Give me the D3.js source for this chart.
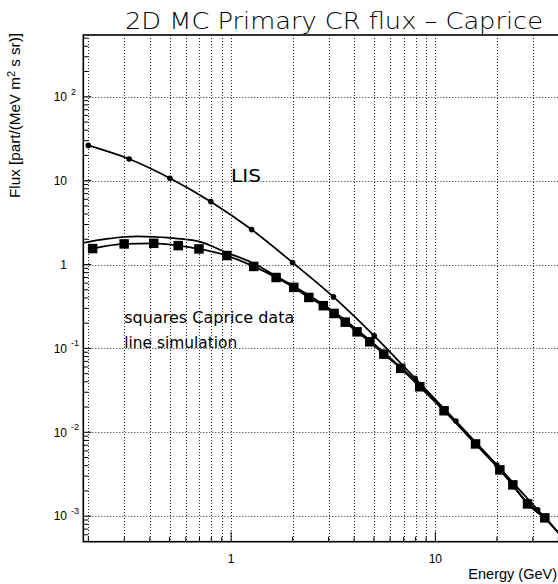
<!DOCTYPE html>
<html><head><meta charset="utf-8">
<script src="https://cdn.jsdelivr.net/npm/d3@7"></script>
<style>body{margin:0;background:#fff}svg{display:block}</style>
</head><body>
<svg id="c" width="558" height="584"></svg>
<script>
// ---- data ----
const lisE = [0.2, 0.317, 0.502, 0.796, 1.26, 2.0, 3.17, 5.02, 7.96, 12.6, 20.0, 31.7];
const lisF = [26.3, 18.1, 10.7, 5.62, 2.61, 1.056, 0.411, 0.141, 0.0439, 0.0136, 0.00408, 0.00119];
const lisTailE = [40.3];
const lisTailF = [0.00062];

const capriceE = [0.210, 0.2995, 0.418, 0.551, 0.696, 0.953, 1.291, 1.661, 2.027, 2.403, 2.827, 3.192,
                  3.622, 4.138, 4.774, 5.589, 6.77, 8.39, 11.03, 15.73, 20.69, 23.95, 28.27, 34.36];
const capriceF = [1.55, 1.76, 1.79, 1.68, 1.535, 1.28, 0.949, 0.700, 0.534, 0.405, 0.323, 0.261,
                  0.2056, 0.1576, 0.1199, 0.0855, 0.0578, 0.0349, 0.01807, 0.00726, 0.00356, 0.00236, 0.00140, 0.000954];

const simE = [0.189, 0.25, 0.3, 0.35, 0.42, 0.55, 0.7, 0.95, 1.3, 1.66, 2.03, 3.2, 5.6, 8.4, 11.0, 15.73, 20.69, 28.27, 34.36, 40.3];
const simF = [1.81, 2.03, 2.14, 2.17, 2.14, 2.04, 1.87, 1.39, 1.02, 0.726, 0.552, 0.271, 0.0892, 0.0366, 0.0187, 0.00736, 0.00361, 0.00144, 0.000968, 0.00062];

const xMajor = [1, 10];
const xMajorLabels = ["1", "10"];
const xMinor = [0.2,0.3,0.4,0.5,0.6,0.7,0.8,0.9,2,3,4,5,6,7,8,9,20,30,40];
const yDecades = [1e-3, 1e-2, 1e-1, 1, 10, 100];
const yLabelBase = ["10", "10", "10", "1", "10", "10"];
const yLabelExp = ["-3", "-2", "-1", "", "", "2"];

const titleText = "2D MC Primary CR flux \u2013 Caprice";
const xTitle = "Energy (GeV)";
const yTitle = ["Flux [part/(MeV m", "2", " s sr)]"];
const noteTexts = ["LIS", "squares Caprice data", "line simulation"];
const noteE = [1.0, 0.3, 0.3];
const noteF = [9.7, 0.2, 0.1];

// ---- layout / style ----
const noteStyle = [{size:17, len:30}, {size:15, len:170}, {size:15, len:113}];
const L = 83.3, R = 559, T = 35, B = 541.7;
const svg = d3.select("#c");
const x = d3.scaleLog().domain([0.189, 40.3]).range([L, R]);
const y = d3.scaleLog().domain([4.96e-4, 545]).range([B, T]);
const tickFont = "'Liberation Sans', Arial, sans-serif";
const roundFont = "'DejaVu Sans', sans-serif";

// grid
const grid = svg.append("g").attr("stroke", "#000").attr("stroke-width", 1).attr("stroke-dasharray", "1,2").attr("opacity", 0.85);
grid.selectAll(".gx").data(xMinor.concat(xMajor)).join("line")
  .attr("x1", d => Math.round(x(d)) + 0.5).attr("x2", d => Math.round(x(d)) + 0.5)
  .attr("y1", T).attr("y2", B);
grid.selectAll(".gy").data(yDecades).join("line")
  .attr("y1", d => Math.round(y(d)) + 0.5).attr("y2", d => Math.round(y(d)) + 0.5)
  .attr("x1", L).attr("x2", R);

// lines
const line = d3.line().x(d => x(d[0])).y(d => y(d[1])).curve(d3.curveMonotoneX);
const lisPts = lisE.map((e,i)=>[e, lisF[i]]).concat(lisTailE.map((e,i)=>[e, lisTailF[i]]));
const simPts = simE.map((e,i)=>[e, simF[i]]);
const capPts = capriceE.map((e,i)=>[e, capriceF[i]]);
const lg = svg.append("g").attr("fill", "none").attr("stroke", "#000").attr("stroke-width", 1.8);
lg.append("path").attr("d", line(lisPts));
lg.append("path").attr("d", line(simPts));
lg.append("path").attr("d", line(capPts));

// markers
svg.append("g").selectAll("circle").data(lisE.map((e,i)=>[e, lisF[i]])).join("circle")
  .attr("cx", d => x(d[0])).attr("cy", d => y(d[1])).attr("r", 2.8).attr("fill", "#000");
const s = 9.5;
svg.append("g").selectAll("rect").data(capPts).join("rect")
  .attr("x", d => x(d[0]) - s/2).attr("y", d => y(d[1]) - s/2).attr("width", s).attr("height", s).attr("fill", "#000");

// frame
const fr = svg.append("g").attr("stroke", "#000").attr("stroke-width", 1.6).attr("fill", "none");
fr.append("rect").attr("x", L).attr("y", T).attr("width", R - L).attr("height", B - T);

// x ticks
const tk = svg.append("g").attr("stroke", "#000").attr("stroke-width", 1);
tk.selectAll(".xmin").data(xMinor).join("line")
  .attr("x1", d => x(d)).attr("x2", d => x(d)).attr("y1", B).attr("y2", B - 5);
tk.selectAll(".xmaj").data(xMajor).join("line")
  .attr("x1", d => x(d)).attr("x2", d => x(d)).attr("y1", B).attr("y2", B - 10);
// y ticks
const yMinor = [];
[-4,-3,-2,-1,0,1,2].forEach(p => { for (let m = 2; m <= 9; m++) { const v = m * Math.pow(10, p); if (v >= 4.96e-4 && v <= 545) yMinor.push(v); } });
tk.selectAll(".ymin").data(yMinor).join("line")
  .attr("x1", L).attr("x2", L + 5).attr("y1", d => y(d)).attr("y2", d => y(d));
tk.selectAll(".ymaj").data(yDecades).join("line")
  .attr("x1", L).attr("x2", L + 8).attr("y1", d => y(d)).attr("y2", d => y(d));

// x labels
svg.append("g").selectAll("text").data(xMajor).join("text")
  .attr("x", d => x(d)).attr("y", 562.5).attr("text-anchor", "middle")
  .attr("font-family", tickFont).attr("font-size", 12).text((d,i) => xMajorLabels[i]);
// y labels
const yl = svg.append("g").attr("font-family", tickFont);
yDecades.forEach((d, i) => {
  yl.append("text").attr("x", 67).attr("y", y(d) + 4.3).attr("text-anchor", "end").attr("font-size", 12).text(yLabelBase[i]);
  if (yLabelExp[i]) yl.append("text").attr("x", 71).attr("y", y(d) - 2).attr("font-size", 9).text(yLabelExp[i]);
});

// axis titles
svg.append("text").attr("x", 557).attr("y", 578.7).attr("text-anchor", "end")
  .attr("font-family", tickFont).attr("font-size", 14.5).text(xTitle);
const yt = svg.append("text").attr("transform", "translate(20,198) rotate(-90)")
  .attr("font-family", tickFont).attr("font-size", 14)
  .attr("textLength", 165).attr("lengthAdjust", "spacingAndGlyphs");
yt.append("tspan").text(yTitle[0]);
yt.append("tspan").attr("dy", -5).attr("font-size", 10).text(yTitle[1]);
yt.append("tspan").attr("dy", 5).text(yTitle[2]);

// title
svg.append("text").attr("x", 125).attr("y", 28.5)
  .attr("font-family", roundFont).attr("font-size", 23).attr("font-weight", 300)
  .attr("textLength", 418).attr("lengthAdjust", "spacingAndGlyphs").text(titleText);

// notes
svg.append("g").selectAll("text").data(noteTexts).join("text")
  .attr("x", (d,i) => x(noteE[i])).attr("y", (d,i) => y(noteF[i])).attr("font-family", roundFont)
  .attr("font-size", (d,i) => noteStyle[i].size)
  .attr("textLength", (d,i) => noteStyle[i].len).attr("lengthAdjust", "spacingAndGlyphs")
  .text(d => d);
</script>
</body></html>
